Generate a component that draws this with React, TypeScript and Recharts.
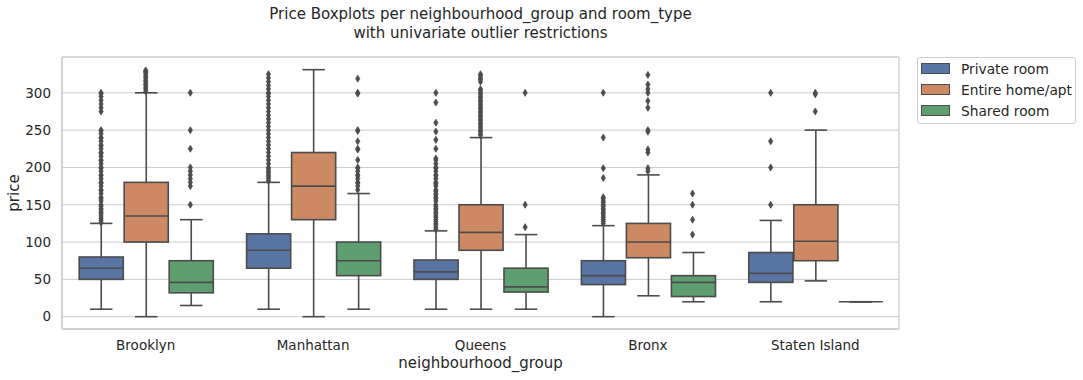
import { ComposedChart, Bar, Scatter, XAxis, YAxis, CartesianGrid, Legend } from 'recharts'

const GROUPS = ['Brooklyn', 'Manhattan', 'Queens', 'Bronx', 'Staten Island']
const ROOM_TYPES = ['Private room', 'Entire home/apt', 'Shared room']
const COLORS = ['#5975a4', '#cc8963', '#5f9e6e']
const Y_TICKS = [0, 50, 100, 150, 200, 250, 300]

// one row per room type, one value per neighbourhood group
const WHISKER_LOW = [
  [10, 10, 10, 0, 20],
  [0, 0, 10, 28, 48],
  [15, 10, 10, 20, 20],
]
const Q1 = [
  [50, 65, 50, 43, 46],
  [100, 130, 89, 79, 75],
  [32, 55, 33, 27, 20],
]
const MEDIAN = [
  [65, 89, 60, 55, 58],
  [135, 175, 113, 100, 101],
  [46, 75, 40, 46, 20],
]
const Q3 = [
  [80, 111, 76, 75, 86],
  [180, 220, 150, 125, 150],
  [75, 100, 65, 55, 20],
]
const WHISKER_HIGH = [
  [125, 180, 115, 122, 129],
  [300, 331, 240, 190, 250],
  [130, 165, 110, 86, 20],
]

const OUTLIERS_PRIVATE = [
  [126, 129, 132, 135, 138, 140, 143, 145, 148, 150, 155, 158, 160, 165, 169, 170, 175, 179, 180, 185, 189, 190, 195, 199, 200, 205, 209, 210, 215, 219, 220, 225, 229, 230, 235, 239, 240, 245, 249, 250, 275, 280, 285, 290, 295, 299, 300],
  [182, 185, 188, 190, 193, 195, 198, 200, 205, 210, 215, 220, 225, 230, 235, 240, 245, 250, 255, 260, 265, 270, 275, 280, 285, 290, 295, 299, 300, 305, 310, 315, 320, 325],
  [117, 120, 123, 125, 128, 130, 133, 135, 138, 140, 143, 145, 148, 150, 155, 158, 160, 163, 165, 168, 170, 175, 178, 180, 185, 189, 190, 195, 199, 200, 205, 210, 212, 225, 237, 248, 260, 287, 300],
  [125, 128, 130, 133, 135, 138, 140, 143, 145, 148, 150, 153, 155, 158, 160, 186, 199, 240, 300],
  [150, 200, 235, 300],
]
const OUTLIERS_ENTIRE = [
  [302, 305, 307, 310, 312, 315, 317, 320, 322, 325, 327, 329, 330],
  [],
  [243, 245, 248, 250, 253, 255, 258, 260, 263, 265, 268, 270, 273, 275, 278, 280, 283, 285, 288, 290, 293, 295, 298, 300, 303, 305, 315, 318, 320, 323, 325],
  [195, 199, 220, 224, 248, 250, 280, 289, 300, 305, 311, 324],
  [275, 298, 300],
]
const OUTLIERS_SHARED = [
  [150, 175, 180, 185, 190, 195, 200, 225, 250, 300],
  [170, 175, 179, 180, 185, 189, 190, 195, 199, 200, 210, 224, 225, 235, 249, 250, 299, 300, 319],
  [120, 150, 300],
  [110, 130, 150, 165],
  [],
]
const OUTLIERS = [OUTLIERS_PRIVATE, OUTLIERS_ENTIRE, OUTLIERS_SHARED]

const LINE = '#4c4c4c'
const GRID = '#cccccc'
const TEXT = '#262626'
const FONT = '"DejaVu Sans", sans-serif'
const DODGE = 0.8 / 3

type Row = { group: string; idx: number }

const rows: Row[] = GROUPS.map((group, idx) => ({ group, idx }))

const outlierPoints = (h: number) =>
  OUTLIERS[h].flatMap((vals, i) => vals.map(price => ({ pos: i + (h - 1) * DODGE, price })))

function boxShape(h: number) {
  return (props: any) => {
    const { x, y, width, height, payload } = props
    if (!payload || typeof payload.idx !== 'number' || !isFinite(x) || !isFinite(y)) return <g />
    const i = payload.idx
    const lo = WHISKER_LOW[h][i]
    const hi = WHISKER_HIGH[h][i]
    const top = Math.min(y, y + (height || 0))
    const bottom = Math.max(y, y + (height || 0))
    // the bar spans lo..hi, so its rect gives the y scale for the box parts
    const toY = (v: number) => (hi === lo ? bottom : bottom - ((v - lo) / (hi - lo)) * (bottom - top))
    const cx = x + width / 2
    const bw = width * 0.98
    const cap = width * 0.25
    const yq1 = toY(Q1[h][i])
    const yq3 = toY(Q3[h][i])
    const ym = toY(MEDIAN[h][i])
    return (
      <g>
        <line x1={cx} x2={cx} y1={top} y2={yq3} stroke={LINE} strokeWidth={1.6} />
        <line x1={cx} x2={cx} y1={yq1} y2={bottom} stroke={LINE} strokeWidth={1.6} />
        <line x1={cx - cap} x2={cx + cap} y1={top} y2={top} stroke={LINE} strokeWidth={1.6} />
        <line x1={cx - cap} x2={cx + cap} y1={bottom} y2={bottom} stroke={LINE} strokeWidth={1.6} />
        <rect x={cx - bw / 2} y={yq3} width={bw} height={yq1 - yq3} fill={COLORS[h]} stroke={LINE} strokeWidth={1.6} />
        <line x1={cx - bw / 2} x2={cx + bw / 2} y1={ym} y2={ym} stroke={LINE} strokeWidth={1.6} />
      </g>
    )
  }
}

const Diamond = (props: any) => {
  const { cx, cy } = props
  if (!isFinite(cx) || !isFinite(cy)) return <g />
  return (
    <polygon
      points={`${cx},${cy - 3.5} ${cx + 2.1},${cy} ${cx},${cy + 3.5} ${cx - 2.1},${cy}`}
      fill={LINE}
      stroke={LINE}
      strokeWidth={0.8}
    />
  )
}

function LegendBox() {
  return (
    <div
      style={{
        position: 'relative',
        width: 157,
        height: 65,
        border: `1px solid ${GRID}`,
        borderRadius: 3,
        background: 'rgba(255,255,255,0.8)',
        fontFamily: FONT,
        fontSize: 13.75,
        color: TEXT,
      }}
    >
      {ROOM_TYPES.map((name, i) => (
        <div
          key={name}
          style={{ position: 'absolute', left: 0, top: i * 21, height: 21, display: 'flex', alignItems: 'center' }}
        >
          <span
            style={{
              display: 'inline-block',
              marginLeft: 3,
              width: 27,
              height: 9,
              background: COLORS[i],
              border: `1px solid ${LINE}`,
            }}
          />
          <span style={{ marginLeft: 11, whiteSpace: 'nowrap' }}>{name}</span>
        </div>
      ))}
    </div>
  )
}

const rangeKey = (h: number) => (r: any) => {
  if (!r || typeof r.idx !== 'number') return null
  return [WHISKER_LOW[h][r.idx], WHISKER_HIGH[h][r.idx]]
}

export default function App() {
  return (
    <div style={{ position: 'absolute', left: 0, top: 0, width: 1083, height: 380, background: '#fff' }}>
      <svg width={1083} height={60} style={{ position: 'absolute', left: 0, top: 0 }}>
        <text x={480.5} y={19} textAnchor="middle" fontFamily={FONT} fontSize={15} fill={TEXT}>
          Price Boxplots per neighbourhood_group and room_type
        </text>
        <text x={480.5} y={37.5} textAnchor="middle" fontFamily={FONT} fontSize={15} fill={TEXT}>
          with univariate outlier restrictions
        </text>
      </svg>
      <ComposedChart
        width={1083}
        height={380}
        data={rows}
        margin={{ top: 57, right: 184, bottom: 0, left: 0 }}
        barCategoryGap="10%"
        barGap={0}
        style={{ fontFamily: FONT }}
      >
        <CartesianGrid vertical={false} stroke={GRID} strokeWidth={1} />
        {/* plot frame on all four sides */}
        <CartesianGrid
          stroke={GRID}
          strokeWidth={1.25}
          horizontalCoordinatesGenerator={({ offset }: any) => [offset.top, offset.top + offset.height]}
          verticalCoordinatesGenerator={({ offset }: any) => [offset.left, offset.left + offset.width]}
        />
        <XAxis
          dataKey="group"
          interval={0}
          height={51}
          tickSize={0}
          tickMargin={11.5}
          tickLine={false}
          axisLine={{ stroke: GRID, strokeWidth: 1.25 }}
          tick={{ fontSize: 13.5, fill: TEXT, fontFamily: FONT }}
          label={{ value: 'neighbourhood_group', position: 'insideBottom', offset: 12, fontSize: 15, fill: TEXT, fontFamily: FONT }}
        />
        <XAxis xAxisId="n" dataKey="pos" type="number" domain={[-0.5, 4.5]} hide />
        <YAxis
          domain={[-16.5, 348]}
          ticks={Y_TICKS}
          width={62}
          tickSize={0}
          tickMargin={11}
          tickLine={false}
          axisLine={{ stroke: GRID, strokeWidth: 1.25 }}
          tick={{ fontSize: 13.5, fill: TEXT, fontFamily: FONT }}
          label={{
            value: 'price',
            content: (p: any) => {
              const vb = p.viewBox || { x: 0, y: 57, height: 272 }
              const lx = vb.x + 19
              const ly = vb.y + vb.height / 2
              return (
                <text x={lx} y={ly} transform={`rotate(-90, ${lx}, ${ly})`} textAnchor="middle" fontSize={15} fill={TEXT} fontFamily={FONT}>
                  price
                </text>
              )
            },
          }}
        />
        {ROOM_TYPES.map((name, h) => (
          <Bar
            key={name}
            name={name}
            dataKey={rangeKey(h)}
            fill={COLORS[h]}
            shape={boxShape(h)}
            isAnimationActive={false}
          />
        ))}
        {ROOM_TYPES.map((name, h) => (
          <Scatter
            key={name + '-out'}
            name={name}
            xAxisId="n"
            data={outlierPoints(h)}
            dataKey="price"
            shape={Diamond}
            isAnimationActive={false}
          />
        ))}
        <Legend
          layout="horizontal"
          verticalAlign="middle"
          wrapperStyle={{ left: 917, top: 57, width: 159 }}
          content={() => <LegendBox />}
        />
      </ComposedChart>
    </div>
  )
}
